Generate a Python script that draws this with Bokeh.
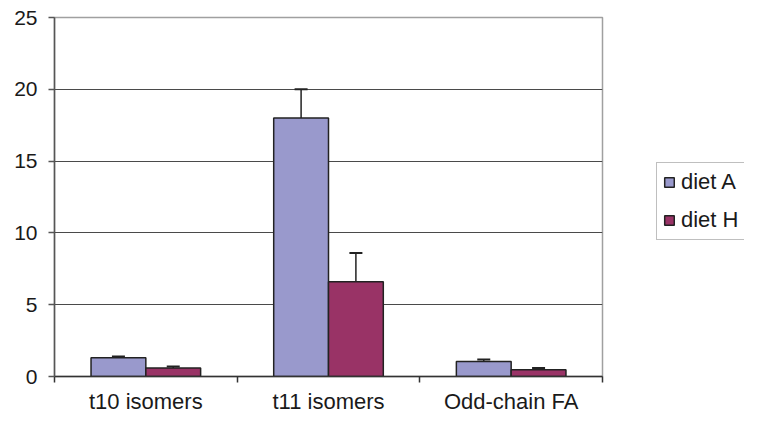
from bokeh.plotting import figure
from bokeh.layouts import row
from bokeh.models import (ColumnDataSource, Range1d, FixedTicker, Whisker,
                          TeeHead, Legend, LegendItem)
from bokeh.embed import file_html
from bokeh.resources import INLINE

# ---- data ----
categories = ["t10 isomers", "t11 isomers", "Odd-chain FA"]
series_names = ["diet A", "diet H"]
diet_a = [1.3, 18.0, 1.05]
diet_a_err = [0.1, 2.0, 0.13]
diet_h = [0.6, 6.6, 0.47]
diet_h_err = [0.1, 2.0, 0.13]
y_ticks = [0, 5, 10, 15, 20, 25]

COL_A = "#9999CC"
COL_H = "#993366"
FONT = "Liberation Sans"
EDGE = "#222222"
NAN = float("nan")

idx = list(range(len(categories)))
centers = [i + 0.5 for i in idx]
off = 0.15
bw = 0.30

src_a = ColumnDataSource(dict(
    x=[c - off for c in centers], top=diet_a,
    upper=[v + e for v, e in zip(diet_a, diet_a_err)]))
src_h = ColumnDataSource(dict(
    x=[c + off for c in centers], top=diet_h,
    upper=[v + e for v, e in zip(diet_h, diet_h_err)]))

p = figure(width=620, height=416, output_backend="svg", toolbar_location=None,
           x_range=Range1d(0, len(categories)), y_range=Range1d(0, 25),
           min_border_left=54, min_border_right=18, min_border_top=17,
           min_border_bottom=39)
p.background_fill_color = "white"
p.border_fill_color = "white"
p.outline_line_color = "#a0a0a0"
p.outline_line_width = 1.5

p.vbar(x="x", top="top", bottom=0, width=bw, source=src_a,
       fill_color=COL_A, line_color=EDGE, line_width=1.5)
p.vbar(x="x", top="top", bottom=0, width=bw, source=src_h,
       fill_color=COL_H, line_color=EDGE, line_width=1.5)

for src in (src_a, src_h):
    w = Whisker(base="x", lower="top", upper="upper", source=src,
                dimension="height", line_color=EDGE, line_width=1.5,
                upper_head=TeeHead(size=13, line_color=EDGE, line_width=2),
                lower_head=None)
    p.add_layout(w)

# x axis
xa = p.xaxis[0]
xa.ticker = FixedTicker(ticks=centers, minor_ticks=[0] + [i + 1 for i in idx])
xa.major_label_overrides = {c: lab for c, lab in zip(centers, categories)}
xa.major_tick_out = 0
xa.major_tick_in = 0
xa.minor_tick_out = 6
xa.minor_tick_in = 0
xa.minor_tick_line_color = "#333333"
xa.minor_tick_line_width = 1.5
xa.axis_line_color = "#333333"
xa.axis_line_width = 1.5
xa.major_label_text_font = FONT
xa.major_label_text_font_size = "22px"
xa.major_label_text_color = "#1a1a1a"
xa.major_label_standoff = 6

# y axis
ya = p.yaxis[0]
ya.ticker = FixedTicker(ticks=y_ticks)
ya.major_tick_out = 6
ya.major_tick_in = 0
ya.minor_tick_line_color = None
ya.major_tick_line_color = "#555555"
ya.major_tick_line_width = 1.5
ya.axis_line_color = "#555555"
ya.axis_line_width = 1.5
ya.major_label_text_font = FONT
ya.major_label_text_font_size = "21px"
ya.major_label_text_color = "#1a1a1a"
ya.major_label_standoff = 11

p.xgrid.visible = False
p.ygrid.ticker = FixedTicker(ticks=y_ticks[1:-1])
p.ygrid.grid_line_color = "#4a4a4a"
p.ygrid.grid_line_width = 1.2

# ---- legend panel ----
pl = figure(width=124, height=416, output_backend="svg", toolbar_location=None,
            x_range=Range1d(0, 1), y_range=Range1d(0, 1),
            x_axis_location=None, y_axis_location=None, min_border=0)
pl.outline_line_color = None
pl.xgrid.visible = False
pl.ygrid.visible = False
pl.background_fill_color = "white"
pl.border_fill_color = "white"
# proxy glyphs with no drawable data, used only for the legend swatches
la = pl.vbar(x=[NAN], bottom=[NAN], top=[NAN], width=0.3,
             fill_color=COL_A, line_color=EDGE, line_width=1.5)
lh = pl.vbar(x=[NAN], bottom=[NAN], top=[NAN], width=0.3,
             fill_color=COL_H, line_color=EDGE, line_width=1.5)

legend = Legend(items=[LegendItem(label=series_names[0], renderers=[la]),
                       LegendItem(label=series_names[1], renderers=[lh])],
                location=(36, 136))
legend.label_text_font = FONT
legend.label_text_font_size = "22px"
legend.label_text_color = "#1a1a1a"
legend.glyph_width = 12
legend.glyph_height = 12
legend.label_standoff = 6
legend.padding = 6
legend.spacing = 12
legend.border_line_color = "#808080"
legend.border_line_width = 1.5
legend.background_fill_color = "white"
legend.margin = 0
pl.add_layout(legend)

layout = row(p, pl)
open("out.html", "w").write(file_html(layout, INLINE))
